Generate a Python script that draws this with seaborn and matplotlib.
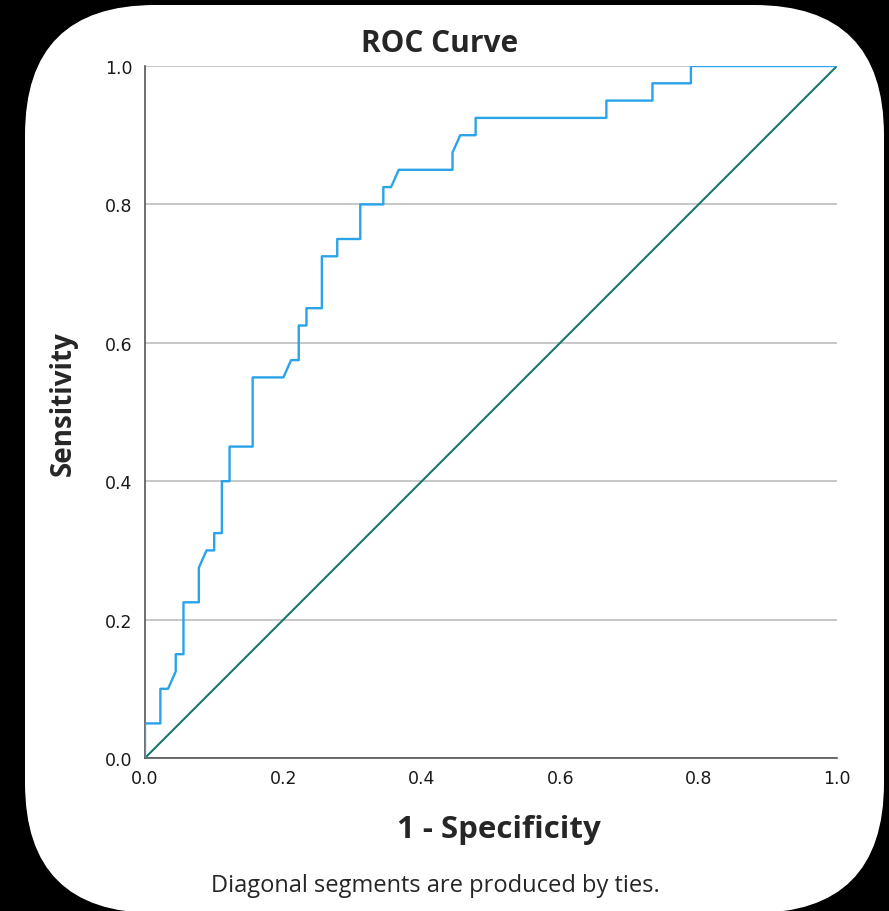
import matplotlib
matplotlib.use("Agg")
import matplotlib.pyplot as plt
from matplotlib.patches import FancyBboxPatch
import seaborn as sns
import pandas as pd

# ROC curve points (1 - specificity, sensitivity)
fpr = [0.0, 0.0, 0.0222, 0.0222, 0.0333, 0.0444, 0.0444, 0.0556, 0.0556,
       0.0778, 0.0778, 0.0889, 0.1, 0.1, 0.1111, 0.1111, 0.1222, 0.1222,
       0.1556, 0.1556, 0.2, 0.2111, 0.2222, 0.2222, 0.2333, 0.2333, 0.2556,
       0.2556, 0.2778, 0.2778, 0.3111, 0.3111, 0.3444, 0.3444, 0.3556,
       0.3667, 0.4444, 0.4444, 0.4556, 0.4778, 0.4778, 0.6667, 0.6667,
       0.7333, 0.7333, 0.7889, 0.7889, 1.0]
tpr = [0.0, 0.05, 0.05, 0.1, 0.1, 0.125, 0.15, 0.15, 0.225,
       0.225, 0.275, 0.3, 0.3, 0.325, 0.325, 0.4, 0.4, 0.45,
       0.45, 0.55, 0.55, 0.575, 0.575, 0.625, 0.625, 0.65, 0.65,
       0.725, 0.725, 0.75, 0.75, 0.8, 0.8, 0.825, 0.825,
       0.85, 0.85, 0.875, 0.9, 0.9, 0.925, 0.925, 0.95,
       0.95, 0.975, 0.975, 1.0, 1.0]
ref_x = [0.0, 1.0]
ref_y = [0.0, 1.0]
ticks = [0.0, 0.2, 0.4, 0.6, 0.8, 1.0]
tick_labels = ["0.0", "0.2", "0.4", "0.6", "0.8", "1.0"]

sns.set_theme(style="white")
plt.rcParams["font.family"] = ["DejaVu Sans"]

W, H = 889, 912
fig = plt.figure(figsize=(W / 100, H / 100), dpi=100, facecolor="black")

# rounded white panel
bg = fig.add_axes([0, 0, 1, 1], zorder=0)
bg.set_xlim(0, W)
bg.set_ylim(0, H)
bg.axis("off")
bg.add_patch(FancyBboxPatch((25, -2), 859, 908,
                            boxstyle="round,pad=0,rounding_size=130",
                            facecolor="white", edgecolor="none"))

ax = fig.add_axes([145 / W, 153 / H, 692 / W, 692 / H], zorder=1)
ax.set_facecolor("none")

df_roc = pd.DataFrame({"fpr": fpr, "tpr": tpr})
df_ref = pd.DataFrame({"x": ref_x, "y": ref_y})

ax.grid(axis="y", color="#bdbdbd", linewidth=1.2)
ax.set_axisbelow(True)
sns.lineplot(data=df_ref, x="x", y="y", ax=ax, color="#1b766c",
             linewidth=1.5, sort=False, estimator=None, zorder=2)
sns.lineplot(data=df_roc, x="fpr", y="tpr", ax=ax, color="#2aa3e8",
             linewidth=1.7, sort=False, estimator=None, zorder=3)

ax.set_xlim(0, 1)
ax.set_ylim(0, 1)
ax.set_xticks(ticks)
ax.set_xticklabels(tick_labels)
ax.set_yticks(ticks)
ax.set_yticklabels(tick_labels)
ax.tick_params(axis="both", length=0, labelsize=12.5, colors="#1a1a1a")
ax.tick_params(axis="x", pad=8)
ax.tick_params(axis="y", pad=9)
for s in ["top", "right"]:
    ax.spines[s].set_visible(False)
for s in ["left", "bottom"]:
    ax.spines[s].set_color("#555555")
    ax.spines[s].set_linewidth(1.2)
ax.set_xlabel("")
ax.set_ylabel("")

fam = ["Open Sans", "DejaVu Sans"]
fig.text(440 / W, 1 - 44 / H, "ROC Curve", ha="center", va="center",
         fontsize=21.5, fontweight="bold", family=fam)
fig.text(499 / W, 1 - 830 / H, "1 - Specificity", ha="center", va="center",
         fontsize=22.5, fontweight="bold", family=fam)
fig.text(63 / W, 1 - 404 / H, "Sensitivity", ha="center", va="center",
         rotation=90, fontsize=20, fontweight="bold", family=fam)
fig.text(435 / W, 1 - 886 / H, "Diagonal segments are produced by ties.",
         ha="center", va="center", fontsize=17, family=fam)

fig.savefig("out.png", dpi=100, facecolor="black")
